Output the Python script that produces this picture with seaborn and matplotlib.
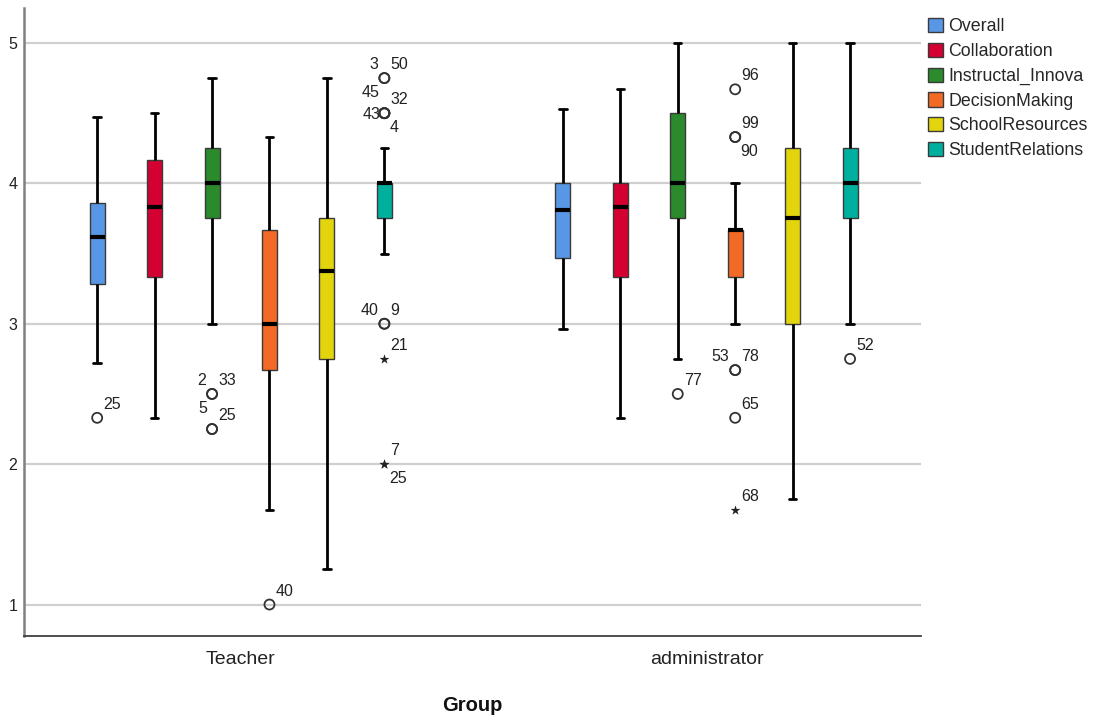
import numpy as np
import pandas as pd
import matplotlib
matplotlib.use("Agg")
import matplotlib.pyplot as plt
from matplotlib import font_manager
import seaborn as sns

groups = ["Teacher", "administrator"]
scales = ["Overall", "Collaboration", "Instructal_Innova", "DecisionMaking",
          "SchoolResources", "StudentRelations"]
colors = ["#5897E6", "#D50032", "#2B8A2B", "#F26A26", "#E2D50E", "#00B09E"]

# five-number summaries
teacher_low = [2.72, 2.33, 3.00, 1.67, 1.25, 3.50]
teacher_q1 = [3.28, 3.33, 3.75, 2.67, 2.75, 3.75]
teacher_med = [3.62, 3.83, 4.00, 3.00, 3.375, 4.00]
teacher_q3 = [3.86, 4.17, 4.25, 3.67, 3.75, 4.00]
teacher_high = [4.47, 4.50, 4.75, 4.33, 4.75, 4.25]

admin_low = [2.96, 2.33, 2.75, 3.00, 1.75, 3.00]
admin_q1 = [3.47, 3.33, 3.75, 3.33, 3.00, 3.75]
admin_med = [3.81, 3.83, 4.00, 3.67, 3.75, 4.00]
admin_q3 = [4.00, 4.00, 4.50, 3.67, 4.25, 4.25]
admin_high = [4.53, 4.67, 5.00, 4.00, 5.00, 5.00]

# outlying cases (one entry per case number)
out_group = [0, 0, 0, 0, 0, 0, 0, 0, 0, 0, 0, 0, 0, 0, 0, 0, 0,
             1, 1, 1, 1, 1, 1, 1, 1, 1]
out_scale = [0, 2, 2, 2, 2, 3, 5, 5, 5, 5, 5, 5, 5, 5, 5, 5, 5,
             2, 3, 3, 3, 3, 3, 3, 3, 5]
out_value = [2.33, 2.5, 2.5, 2.25, 2.25, 1.0, 4.75, 4.75, 4.5, 4.5, 4.5, 4.5,
             3.0, 3.0, 2.75, 2.0, 2.0,
             2.5, 4.67, 4.33, 4.33, 2.67, 2.67, 2.33, 1.67, 2.75]
out_case = ["25", "2", "33", "5", "25", "40", "3", "50", "45", "32", "43", "4",
            "40", "9", "21", "7", "25",
            "77", "96", "99", "90", "53", "78", "65", "68", "52"]
out_extreme = [False, False, False, False, False, False, False, False, False,
               False, False, False, False, False, True, True, True,
               False, False, False, False, False, False, False, True, False]

# where each case label sits around its marker
label_spot = ["ur", "ul", "ur", "ul2", "ur", "ur", "ul", "ur", "ul2", "ur", "l", "lr",
              "ul", "ur", "ur", "ur", "lr",
              "ur", "ur", "ur", "lr", "ul", "ur", "ur", "ur", "ur"]
spot_style = {
    "ur": (6, 6, "left", "bottom"),
    "ul": (-6, 6, "right", "bottom"),
    "ul2": (-5, 13, "right", "bottom"),
    "l": (-4, -1, "right", "center"),
    "lr": (5, -7, "left", "top"),
}

rows = []
for g, stats in enumerate([
    [teacher_low, teacher_q1, teacher_med, teacher_q3, teacher_high],
    [admin_low, admin_q1, admin_med, admin_q3, admin_high],
]):
    for arr in stats:
        for j, s in enumerate(scales):
            rows.append({"group": g, "scale": s, "score": arr[j]})
box_df = pd.DataFrame(rows)

sns.set_style("white")
names = {f.name for f in font_manager.fontManager.ttflist}
main_font = "Liberation Sans Narrow" if "Liberation Sans Narrow" in names else "Liberation Sans"
plt.rcParams["font.family"] = [main_font, "DejaVu Sans"]

fig = plt.figure(figsize=(11, 7.17), dpi=100)
ax = fig.add_axes([0.022, 0.113, 0.815, 0.876])

total_w = 0.74
sns.boxplot(data=box_df, x="group", y="score", hue="scale", hue_order=scales,
            palette=colors, native_scale=True, orient="x", width=total_w, gap=0.74,
            whis=(0, 100), showfliers=False, linecolor="black", linewidth=1,
            saturation=1, ax=ax,
            boxprops=dict(edgecolor="#3a3a3a", linewidth=1),
            whiskerprops=dict(linewidth=2),
            capprops=dict(linewidth=2),
            medianprops=dict(linewidth=3))

# outliers
slot = total_w / len(scales)
xpos = np.array(out_group) + (np.array(out_scale) - 2.5) * slot
vals = np.array(out_value)
ext = np.array(out_extreme)
ax.scatter(xpos[~ext], vals[~ext], s=52, facecolors="none", edgecolors="#333333",
           linewidths=1.3, zorder=5)
ax.scatter(xpos[ext], vals[ext], s=55, marker="*", color="#222222", linewidths=0,
           zorder=5)
for x, y, txt, spot in zip(xpos, vals, out_case, label_spot):
    dx, dy, ha, va = spot_style[spot]
    ax.annotate(txt, (x, y), xytext=(dx, dy), textcoords="offset pixels",
                ha=ha, va=va, fontsize=11.5, color="#222222")

ax.set_xlim(-0.465, 1.46)
ax.set_ylim(0.776, 5.25)
ax.set_yticks([1, 2, 3, 4, 5])
ax.set_xticks([0, 1])
ax.set_xticklabels(groups, fontsize=14, color="#222222")
ax.tick_params(axis="y", labelsize=11.5, length=0, pad=5, labelcolor="#222222")
ax.tick_params(axis="x", length=0, pad=11)
ax.grid(axis="y", color="#cfcfcf", linewidth=1.6)
ax.grid(axis="x", visible=False)
ax.set_axisbelow(True)
ax.set_ylabel("")
ax.set_xlabel("Group", fontsize=14.5, fontweight="bold", labelpad=20, color="#111111")

sns.despine(ax=ax)
ax.spines["left"].set_color("#808080")
ax.spines["left"].set_linewidth(1.8)
ax.spines["bottom"].set_color("#404040")
ax.spines["bottom"].set_linewidth(1.3)

sns.move_legend(ax, "upper left", bbox_to_anchor=(1.0, 0.995), frameon=False,
                title=None, fontsize=12.8, handlelength=0.85, handleheight=0.85,
                handletextpad=0.3, labelspacing=0.42, borderaxespad=0.2, borderpad=0.2)

fig.savefig("out.png", dpi=100)
